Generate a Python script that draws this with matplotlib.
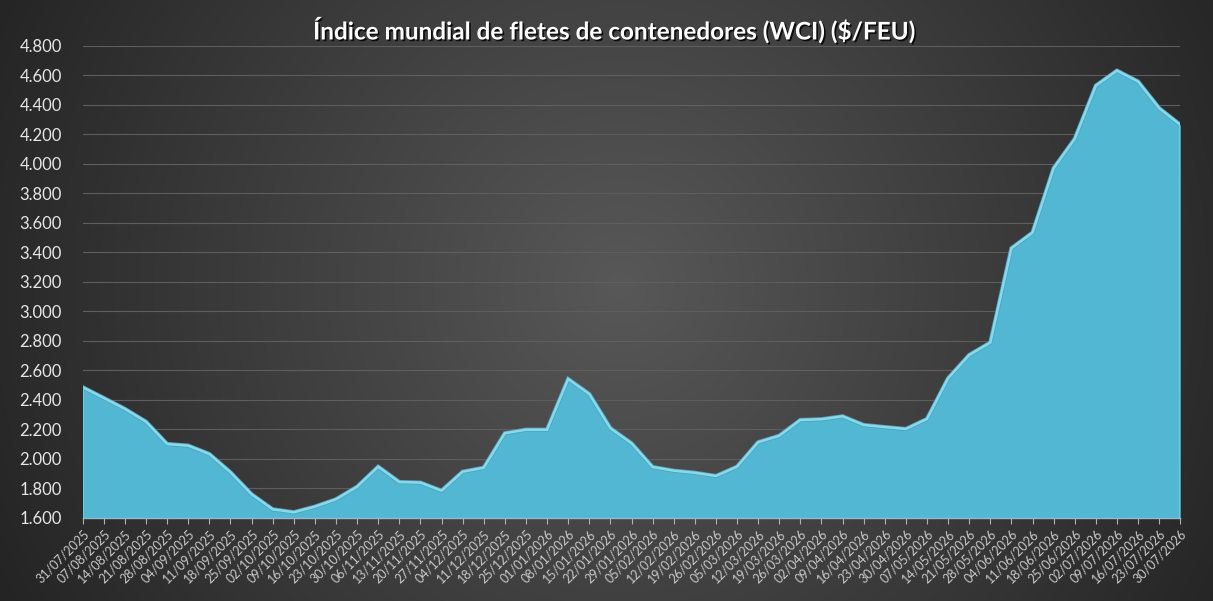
import numpy as np
import matplotlib
matplotlib.use("Agg")
import matplotlib.pyplot as plt
import matplotlib.patheffects as pe
from matplotlib.ticker import FuncFormatter, FixedLocator

dates = ["31/07/2025", "07/08/2025", "14/08/2025", "21/08/2025", "28/08/2025",
         "04/09/2025", "11/09/2025", "18/09/2025", "25/09/2025", "02/10/2025",
         "09/10/2025", "16/10/2025", "23/10/2025", "30/10/2025", "06/11/2025",
         "13/11/2025", "20/11/2025", "27/11/2025", "04/12/2025", "11/12/2025",
         "18/12/2025", "25/12/2025", "01/01/2026", "08/01/2026", "15/01/2026",
         "22/01/2026", "29/01/2026", "05/02/2026", "12/02/2026", "19/02/2026",
         "26/02/2026", "05/03/2026", "12/03/2026", "19/03/2026", "26/03/2026",
         "02/04/2026", "09/04/2026", "16/04/2026", "23/04/2026", "30/04/2026",
         "07/05/2026", "14/05/2026", "21/05/2026", "28/05/2026", "04/06/2026",
         "11/06/2026", "18/06/2026", "25/06/2026", "02/07/2026", "09/07/2026",
         "16/07/2026", "23/07/2026", "30/07/2026"]

wci = [2485, 2412, 2338, 2251, 2100, 2089, 2032, 1908, 1759, 1657,
       1637, 1675, 1725, 1810, 1946, 1842, 1838, 1783, 1912, 1939,
       2173, 2197, 2197, 2541, 2439, 2207, 2105, 1944, 1919, 1905,
       1883, 1946, 2112, 2156, 2263, 2268, 2288, 2229, 2215, 2202,
       2270, 2546, 2704, 2788, 3428, 3534, 3971, 4170, 4531, 4633,
       4559, 4378, 4265]

y_ticks = [1600, 1800, 2000, 2200, 2400, 2600, 2800, 3000, 3200, 3400,
           3600, 3800, 4000, 4200, 4400, 4600, 4800]

title = "Índice mundial de fletes de contenedores (WCI) ($/FEU)"

W, H = 1213, 601
fig = plt.figure(figsize=(W / 100, H / 100), dpi=100)

# radial background
bg = fig.add_axes([0, 0, 1, 1], zorder=-10)
yy, xx = np.mgrid[0:H, 0:W]
r = np.sqrt((xx - 620) ** 2 + (yy - 285) ** 2)
v = np.clip(88 - 0.075 * r, 30, 255) / 255.0
img = np.dstack([v, v, v])
bg.imshow(img, aspect="auto", extent=[0, 1, 0, 1], origin="upper")
bg.set_axis_off()

left, right = 82.7 / W, 1180.3 / W
bottom, top = 1 - 517.7 / H, 1 - 46.0 / H
ax = fig.add_axes([left, bottom, right - left, top - bottom])
ax.set_facecolor("none")

x = np.arange(len(dates))
ax.fill_between(x, 1600, wci, color="#52b7d2", zorder=3, linewidth=0)
ax.plot(x, wci, color="#45a8c3", lw=3.0, zorder=3.5, solid_joinstyle="miter")
ax.plot(x, wci, color="#85dbee", lw=1.8, zorder=4, solid_joinstyle="miter")
ax.vlines([x[0], x[-1]], 1600, [wci[0], wci[-1]], color="#6cc9e0", lw=1.5, zorder=4)

ax.set_xlim(0, len(dates) - 1)
ax.set_ylim(1600, 4800)
ax.yaxis.set_major_locator(FixedLocator(y_ticks))
ax.yaxis.set_major_formatter(FuncFormatter(lambda val, p: f"{val:,.0f}".replace(",", ".")))
ax.grid(axis="y", color="#5e5e5e", lw=0.8, zorder=1)
ax.set_axisbelow(True)

ax.set_xticks(x)
ax.set_xticklabels(dates, rotation=45, ha="right", rotation_mode="anchor",
                   fontsize=9, color="#c9c9c9", family=["Lato", "DejaVu Sans"])
ax.tick_params(axis="x", length=4, width=0.8, color="#b0b0b0", pad=3)
ax.tick_params(axis="y", length=0, pad=15, labelsize=12, labelcolor="#e6e6e6")
for lab in ax.get_yticklabels():
    lab.set_family(["Lato", "DejaVu Sans"])

for s in ["top", "right", "left"]:
    ax.spines[s].set_visible(False)
ax.spines["bottom"].set_color("#b0b0b0")
ax.spines["bottom"].set_linewidth(1.0)
ax.spines["bottom"].set_zorder(5)

fig.text(614 / W, 1 - 30 / H, title, ha="center", va="center", fontsize=17.5,
         fontweight="bold", color="white", family=["Lato", "DejaVu Sans"],
         path_effects=[pe.withSimplePatchShadow(offset=(1.2, -1.2), shadow_rgbFace="black", alpha=0.8)])

fig.savefig("out.png", dpi=100)
